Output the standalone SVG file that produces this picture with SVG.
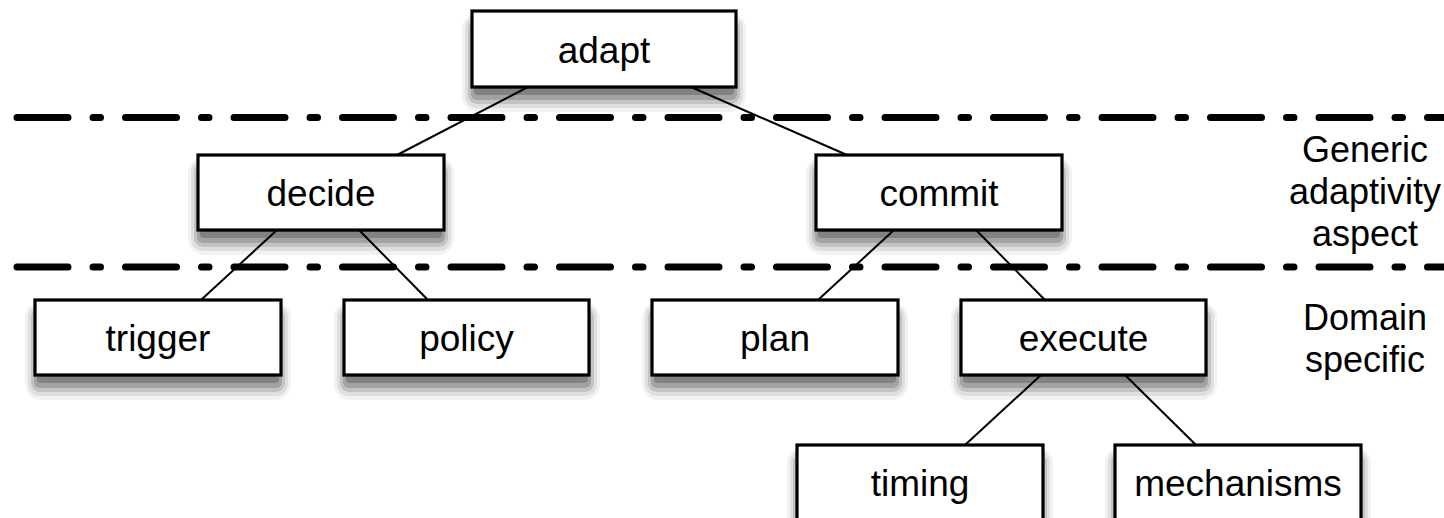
<svg xmlns="http://www.w3.org/2000/svg" xmlns:xlink="http://www.w3.org/1999/xlink" width="1444" height="518" viewBox="0 0 1444 518">
  <style>
    .box { fill: #ffffff; stroke: #000000; stroke-width: 3.2; }
    .label { font-family: "Liberation Sans", Arial, Helvetica, sans-serif; font-size: 37px; fill: #000000; text-anchor: middle; }
    .side { font-family: "Liberation Sans", Arial, Helvetica, sans-serif; font-size: 36px; fill: #000000; text-anchor: middle; }
    .edge { stroke: #000000; stroke-width: 2; fill: none; }
    .divider { stroke: #000000; stroke-width: 7; stroke-linecap: round; stroke-dasharray: 51 25 7.5 25; fill: none; }
  </style>
  <defs>
    <!-- layered soft shadow for a 246x75 box, drawn relative to the box corner -->
    <g id="shadow">
      <rect x="-10" y="2" width="266" height="98" rx="16" fill="#000" fill-opacity="0.05"/>
      <rect x="-7" y="5" width="260" height="91" rx="12" fill="#000" fill-opacity="0.08"/>
      <rect x="-4" y="8" width="254" height="84" rx="9" fill="#000" fill-opacity="0.12"/>
      <rect x="-1" y="11" width="248" height="77" rx="6" fill="#000" fill-opacity="0.16"/>
      <rect x="2" y="14" width="242" height="69" rx="4" fill="#000" fill-opacity="0.2"/>
      <rect x="5" y="17" width="236" height="60" rx="2" fill="#000" fill-opacity="0.2"/>
    </g>
    <!-- same, for the wider 264x76 root box -->
    <g id="shadow-wide">
      <rect x="-10" y="2" width="284" height="99" rx="16" fill="#000" fill-opacity="0.05"/>
      <rect x="-7" y="5" width="278" height="92" rx="12" fill="#000" fill-opacity="0.08"/>
      <rect x="-4" y="8" width="272" height="85" rx="9" fill="#000" fill-opacity="0.12"/>
      <rect x="-1" y="11" width="266" height="78" rx="6" fill="#000" fill-opacity="0.16"/>
      <rect x="2" y="14" width="260" height="70" rx="4" fill="#000" fill-opacity="0.2"/>
      <rect x="5" y="17" width="254" height="61" rx="2" fill="#000" fill-opacity="0.2"/>
    </g>
  </defs>
  <rect width="1444" height="518" fill="#ffffff"/>

  <!-- layer dividers -->
  <g id="dividers">
    <line class="divider" x1="17" y1="117.5" x2="1450" y2="117.5"/>
    <line class="divider" x1="17" y1="267" x2="1450" y2="267"/>
  </g>

  <!-- tree edges -->
  <g id="connectors">
    <line class="edge" x1="528" y1="87" x2="397" y2="155"/>
    <line class="edge" x1="691" y1="87" x2="847" y2="155"/>
    <line class="edge" x1="277" y1="230" x2="201" y2="300"/>
    <line class="edge" x1="359" y1="230" x2="428" y2="300"/>
    <line class="edge" x1="894" y1="230" x2="818" y2="300"/>
    <line class="edge" x1="976" y1="230" x2="1045" y2="300"/>
    <line class="edge" x1="1041" y1="375" x2="965" y2="445"/>
    <line class="edge" x1="1125" y1="375" x2="1196" y2="445"/>
  </g>

  <g id="node-adapt">
    <use xlink:href="#shadow-wide" href="#shadow-wide" x="472" y="11"/>
    <rect class="box" x="472" y="11" width="264" height="76"/>
    <text class="label" x="604" y="62.5">adapt</text>
  </g>
  <g id="node-decide">
    <use xlink:href="#shadow" href="#shadow" x="198" y="155"/>
    <rect class="box" x="198" y="155" width="246" height="75"/>
    <text class="label" x="321" y="205.5">decide</text>
  </g>
  <g id="node-commit">
    <use xlink:href="#shadow" href="#shadow" x="816" y="155"/>
    <rect class="box" x="816" y="155" width="246" height="75"/>
    <text class="label" x="939" y="205.5">commit</text>
  </g>
  <g id="node-trigger">
    <use xlink:href="#shadow" href="#shadow" x="35" y="300"/>
    <rect class="box" x="35" y="300" width="246" height="75"/>
    <text class="label" x="158" y="350.5">trigger</text>
  </g>
  <g id="node-policy">
    <use xlink:href="#shadow" href="#shadow" x="344" y="300"/>
    <rect class="box" x="344" y="300" width="245" height="75"/>
    <text class="label" x="466.5" y="350.5">policy</text>
  </g>
  <g id="node-plan">
    <use xlink:href="#shadow" href="#shadow" x="652" y="300"/>
    <rect class="box" x="652" y="300" width="246" height="75"/>
    <text class="label" x="775" y="350.5">plan</text>
  </g>
  <g id="node-execute">
    <use xlink:href="#shadow" href="#shadow" x="961" y="300"/>
    <rect class="box" x="961" y="300" width="245" height="75"/>
    <text class="label" x="1083.5" y="350.5">execute</text>
  </g>
  <g id="node-timing">
    <use xlink:href="#shadow" href="#shadow" x="797" y="445"/>
    <rect class="box" x="797" y="445" width="246" height="75"/>
    <text class="label" x="920" y="496">timing</text>
  </g>
  <g id="node-mechanisms">
    <use xlink:href="#shadow" href="#shadow" x="1115" y="445"/>
    <rect class="box" x="1115" y="445" width="246" height="75"/>
    <text class="label" x="1238" y="496">mechanisms</text>
  </g>

  <!-- layer captions -->
  <g id="caption-generic">
    <text class="side" x="1365" y="162">Generic</text>
    <text class="side" x="1365" y="204">adaptivity</text>
    <text class="side" x="1365" y="246">aspect</text>
  </g>
  <g id="caption-domain">
    <text class="side" x="1365" y="329.5">Domain</text>
    <text class="side" x="1365" y="371.5">specific</text>
  </g>
</svg>
